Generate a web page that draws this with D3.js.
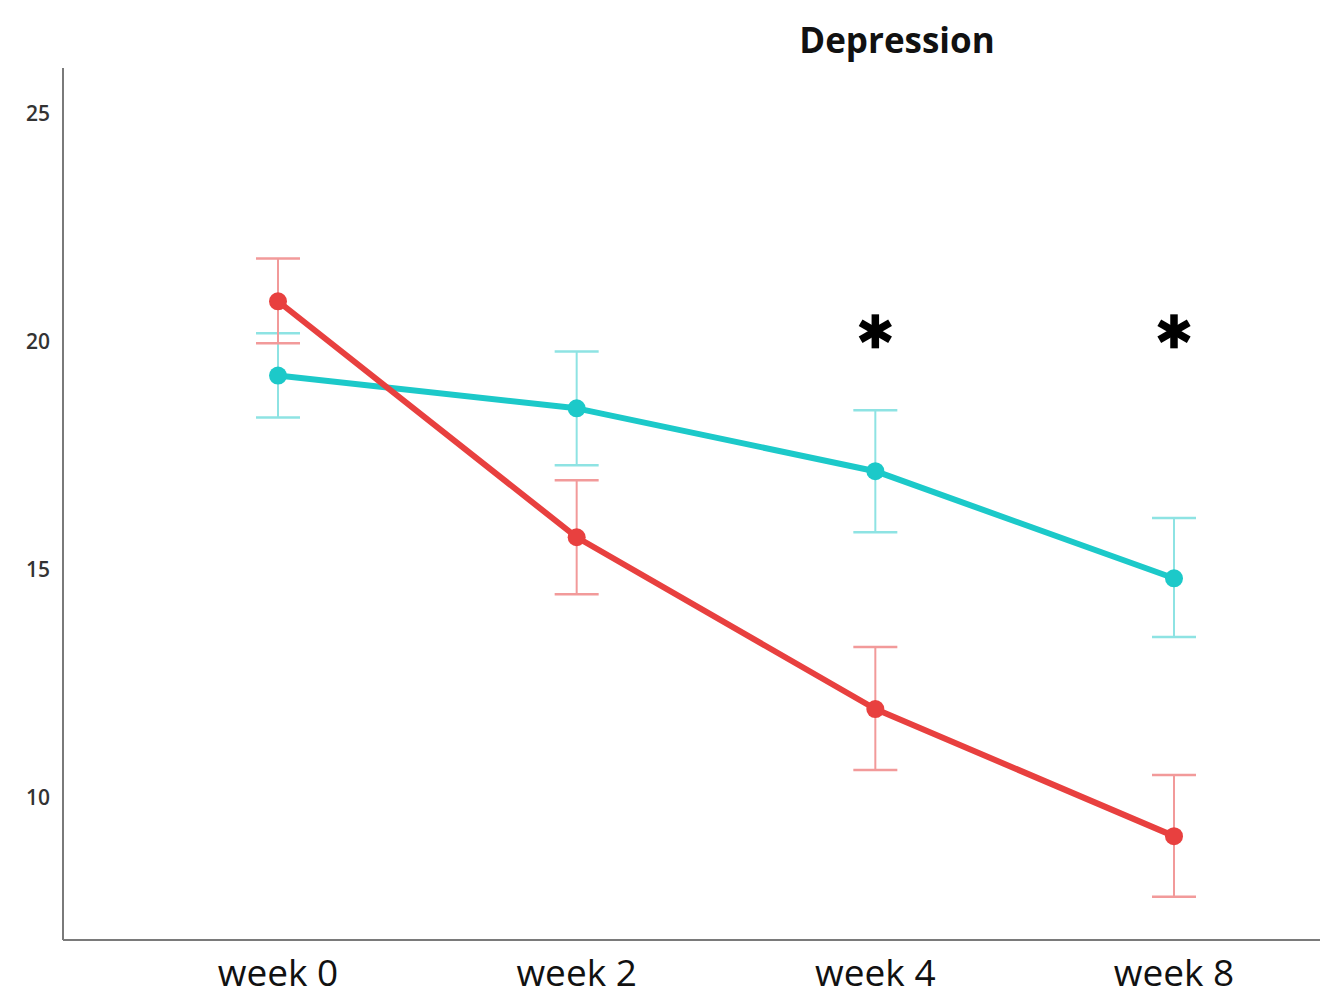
<!DOCTYPE html>
<html>
<head>
<meta charset="utf-8">
<script src="https://cdn.jsdelivr.net/npm/d3@7"></script>
<style>
  body { margin: 0; background: #fff; }
  svg { display: block; }
</style>
</head>
<body>
<div id="chart"></div>
<script>
// Data
const weeks = ["week 0", "week 2", "week 4", "week 8"];
const redMean = [20.88, 15.70, 11.93, 9.14];
const redLow = [19.96, 14.45, 10.59, 7.81];
const redHigh = [21.82, 16.95, 13.29, 10.48];
const tealMean = [19.25, 18.53, 17.15, 14.80];
const tealLow = [18.33, 17.28, 15.81, 13.51];
const tealHigh = [20.18, 19.78, 18.49, 16.12];
const yTicks = [10, 15, 20, 25];
const starWeeks = ["week 4", "week 8"];
const starLevel = 20.22;

const width = 1320, height = 1000;
const margin = {top: 68, right: 0, bottom: 60, left: 63};

const svg = d3.select("#chart").append("svg")
  .attr("width", width)
  .attr("height", height);

const x = d3.scalePoint()
  .domain(weeks)
  .range([278, 1174]);

const y = d3.scaleLinear()
  .domain([6.86, 26])
  .range([height - margin.bottom, margin.top]);

// axes
svg.append("line")
  .attr("x1", margin.left).attr("x2", margin.left)
  .attr("y1", margin.top).attr("y2", y(6.86))
  .attr("stroke", "#7a7a7a").attr("stroke-width", 2);
svg.append("line")
  .attr("x1", margin.left).attr("x2", width)
  .attr("y1", y(6.86)).attr("y2", y(6.86))
  .attr("stroke", "#7a7a7a").attr("stroke-width", 2);

svg.selectAll(".ytick")
  .data(yTicks)
  .enter().append("text")
  .attr("class", "ytick")
  .attr("x", 50)
  .attr("y", d => y(d))
  .attr("dy", "0.36em")
  .attr("text-anchor", "end")
  .attr("font-family", "Open Sans, sans-serif")
  .attr("font-size", 21)
  .attr("font-weight", 600)
  .attr("fill", "#333")
  .text(d => d);

svg.selectAll(".xtick")
  .data(weeks)
  .enter().append("text")
  .attr("class", "xtick")
  .attr("x", d => x(d))
  .attr("y", 986)
  .attr("text-anchor", "middle")
  .attr("font-family", "Open Sans, sans-serif")
  .attr("font-size", 37)
  .attr("font-weight", 500)
  .attr("fill", "#111")
  .text(d => d);

// title
svg.append("text")
  .attr("x", 897)
  .attr("y", 53)
  .attr("text-anchor", "middle")
  .attr("font-family", "Open Sans, sans-serif")
  .attr("font-weight", 700)
  .attr("font-size", 35)
  .attr("fill", "#111")
  .text("Depression");

function drawSeries(mean, low, high, color, errColor) {
  const rows = weeks.map((w, i) => ({w, m: mean[i], lo: low[i], hi: high[i]}));
  const g = svg.append("g");

  // error bars
  const eb = g.selectAll(".eb").data(rows).enter().append("g");
  eb.append("line")
    .attr("x1", d => x(d.w)).attr("x2", d => x(d.w))
    .attr("y1", d => y(d.lo)).attr("y2", d => y(d.hi))
    .attr("stroke", errColor).attr("stroke-width", 2);
  eb.append("line")
    .attr("x1", d => x(d.w) - 22).attr("x2", d => x(d.w) + 22)
    .attr("y1", d => y(d.hi)).attr("y2", d => y(d.hi))
    .attr("stroke", errColor).attr("stroke-width", 2.5);
  eb.append("line")
    .attr("x1", d => x(d.w) - 22).attr("x2", d => x(d.w) + 22)
    .attr("y1", d => y(d.lo)).attr("y2", d => y(d.lo))
    .attr("stroke", errColor).attr("stroke-width", 2.5);

  const line = d3.line().x(d => x(d.w)).y(d => y(d.m));
  g.append("path")
    .datum(rows)
    .attr("d", line)
    .attr("fill", "none")
    .attr("stroke", color)
    .attr("stroke-width", 6)
    .attr("stroke-linejoin", "round");

  g.selectAll("circle").data(rows).enter().append("circle")
    .attr("cx", d => x(d.w))
    .attr("cy", d => y(d.m))
    .attr("r", 9)
    .attr("fill", color);
}

drawSeries(tealMean, tealLow, tealHigh, "#1cc9c9", "#8ee3e3");
drawSeries(redMean, redLow, redHigh, "#e8403f", "#f29a9a");

// significance markers: bold asterisks drawn as three crossing bars
const star = svg.selectAll(".star")
  .data(starWeeks)
  .enter().append("g")
  .attr("class", "star")
  .attr("transform", d => `translate(${x(d)},${y(starLevel)})`);
[90, 30, -30].forEach(a => {
  star.append("line")
    .attr("x1", -17).attr("x2", 17)
    .attr("y1", 0).attr("y2", 0)
    .attr("transform", `rotate(${a})`)
    .attr("stroke", "#000")
    .attr("stroke-width", 7.5);
});
</script>
</body>
</html>
